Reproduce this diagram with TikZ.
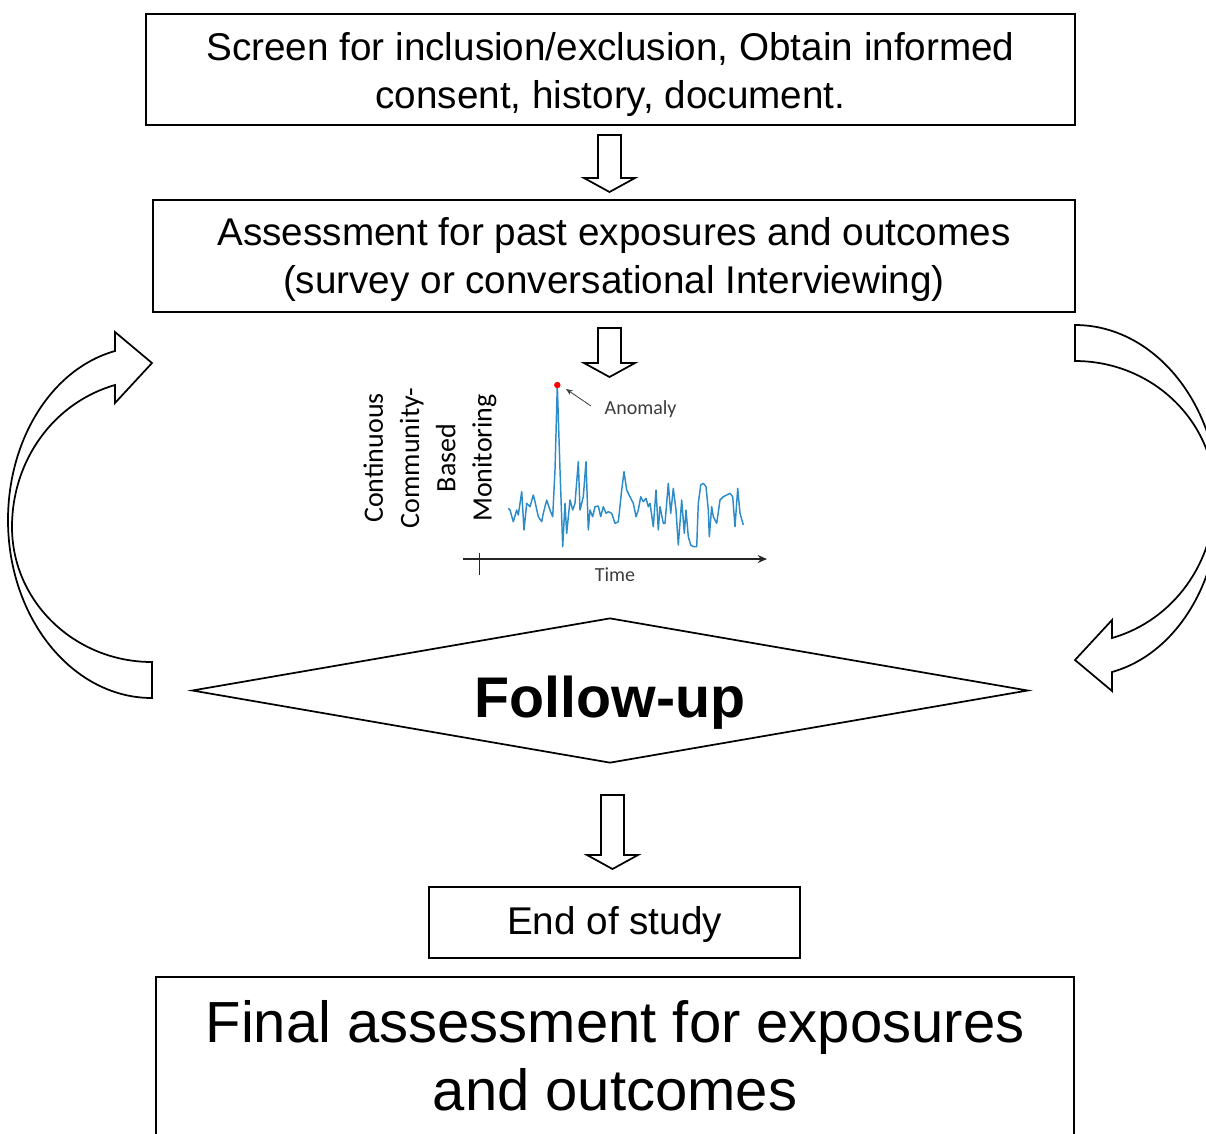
\documentclass[tikz,border=0pt]{standalone}
\usepackage{fontspec}
\setmainfont{Liberation Sans}
\newfontfamily\calfont{Carlito}
\usetikzlibrary{shapes.geometric,arrows.meta,calc}
\definecolor{sig}{RGB}{45,140,200}
\definecolor{annot}{RGB}{60,60,60}
\newcommand\blockdown[4]{% name, x, ytop, ytip
  \draw[blk] (#2-11.5,#3) coordinate (#1) -- (#2+11.5,#3) -- (#2+11.5,#4-14) -- (#2+25.5,#4-14)
    -- (#2,#4) -- (#2-25.5,#4-14) -- (#2-11.5,#4-14) -- cycle;}
\begin{document}
\begin{tikzpicture}[x=0.75pt,y=-0.75pt,
  box/.style={draw,line width=1.5pt,inner sep=0pt},
  txt/.style={align=center,inner sep=0pt,font=\fontsize{29}{36}\selectfont},
  blk/.style={draw,line width=1.3pt,fill=white,line join=miter},
  chartlbl/.style={font=\calfont\fontsize{15}{18}\selectfont,text=annot}]
\useasboundingbox (0,0) rectangle (1206,1133);
\clip (0,0) rectangle (1206,1133);

% boxes
\node[box,minimum width=696.75pt,minimum height=83.25pt] (b1) at (610.5,69.5) {};
\node[txt] (b1t) at ($(b1.center)+(0,5)$)
  {Screen for inclusion/exclusion, Obtain informed\\consent, history, document.};
\node[box,minimum width=691.5pt,minimum height=84pt] (b2) at (614,256) {};
\node[txt] (b2t) at ($(b2.center)+(0,3)$)
  {Assessment for past exposures and outcomes\\(survey or conversational Interviewing)};
\node[box,minimum width=278.25pt,minimum height=53.25pt] (b3) at (614.5,922.5) {};
\node[txt] (b3t) at ($(b3.center)+(0,2)$) {End of study};
\node[box,minimum width=688.5pt,minimum height=118.5pt] (b4) at (615,1056) {};
\node[txt,font=\fontsize{43.5}{51}\selectfont] (b4t) at (b4.center)
  {Final assessment for exposures\\and outcomes};

% down block arrows
\blockdown{a1}{609.5}{135}{192}
\blockdown{a2}{609.5}{328}{377}
\blockdown{a3}{612.5}{795}{869}

% follow-up diamond
\node[draw,diamond,aspect=5.77,minimum width=627pt,minimum height=108.75pt,
  inner sep=0pt,line width=1.3pt] (fu) at (610,690.5) {};
\node[font=\bfseries\fontsize{43}{50}\selectfont] (fut) at (610,703) {Follow-up};

% curved arrows
\draw[blk] (152,662) -- (152,698) .. controls (72.5,698) and (8,618.3) .. (8,520)
  .. controls (8,439.2) and (51.9,368.7) .. (115,351) -- (115,332) -- (152,363)
  -- (115,403) -- (115,385) .. controls (53.7,402.6) and (12,460.3) .. (12,527)
  .. controls (12,601.6) and (74.7,662) .. (152,662) -- cycle;
\begin{scope}[rotate around={180:(613.5,511.5)}]
\draw[blk] (152,662) -- (152,698) .. controls (72.5,698) and (8,618.3) .. (8,520)
  .. controls (8,439.2) and (51.9,368.7) .. (115,351) -- (115,332) -- (152,363)
  -- (115,403) -- (115,385) .. controls (53.7,402.6) and (12,460.3) .. (12,527)
  .. controls (12,601.6) and (74.7,662) .. (152,662) -- cycle;
\end{scope}

% chart
\node[rotate=90,align=center,font=\calfont\fontsize{21}{27.2}\selectfont] (mon) at (430,458)
  {Continuous\\Community-\\Based\\Monitoring};
\draw[sig,line width=1.1pt,line join=round] plot coordinates {
(508.3,508.3)(510,510)(513.3,521.7)(516.7,510)(518.3,515)(521.7,491.7)(524,530)
(526.7,503.3)(530,506.7)(533.3,495)(535,501.7)(538.3,516.7)(541.7,521.7)(543.3,513.3)
(546.7,500)(550,510)(552.7,516.7)(555,470)(557.3,385)(560,470)(562.7,546.7)
(565,503.3)(566.7,533.3)(570,500)(572.7,510)(575,503.3)(578.3,461.7)(580,510)
(583.3,496.7)(586,461.7)(588.3,530)(590,510)(592.7,516.7)(595,506.7)(598.3,506)
(600.7,516.7)(603.3,506.7)(606,513.3)(608.3,511.7)(611.7,513.3)(615,523.3)
(618.3,521.7)(621.7,490)(624,471.7)(626.7,490)(630,496.7)(633.3,503.3)(636,516.7)
(638.3,510)(640.7,496.7)(643.3,501.7)(646,498.3)(648.3,506.7)(650,503.3)(653.3,526.7)
(656,490)(658.3,530)(660,506.7)(663.3,523.3)(665,523.3)(668.3,483.3)(670.7,513.3)
(673.3,488.3)(676,510)(678.3,545)(681.7,500)(684.3,533.3)(686,510)(688.3,536.7)
(690.7,545)(693.3,546.7)(696.7,546.7)(698.3,503.3)(700.7,485)(703.3,483.3)
(706,486.7)(708.3,510)(709.3,536.7)(711.7,506.7)(713.3,516.7)(716.7,523.3)(720,500)
(723.3,496.7)(726.7,495)(730,493.3)(732.7,496.7)(735,526.7)(737.7,488.3)(740,513.3)
(743.3,525)};
\fill[red] (557.3,385) circle[radius=2.4pt] coordinate (peak);
\node[chartlbl,anchor=west] (anom) at (600,409) {Anomaly};
\draw[annot,line width=0.6pt,-{Stealth[length=5pt,width=4pt]}] (591,406) -- (566,389);
\coordinate (ax0) at (463,559);
\coordinate (ax1) at (767,559);
\draw[black!85,line width=1.1pt,-{Stealth[length=7pt,width=6pt]}] (ax0) -- (ax1);
\draw[black!85,line width=1.1pt] (479.5,553) -- (479.5,575);
\node[chartlbl] (time) at (615,575) {Time};
\end{tikzpicture}
\end{document}
